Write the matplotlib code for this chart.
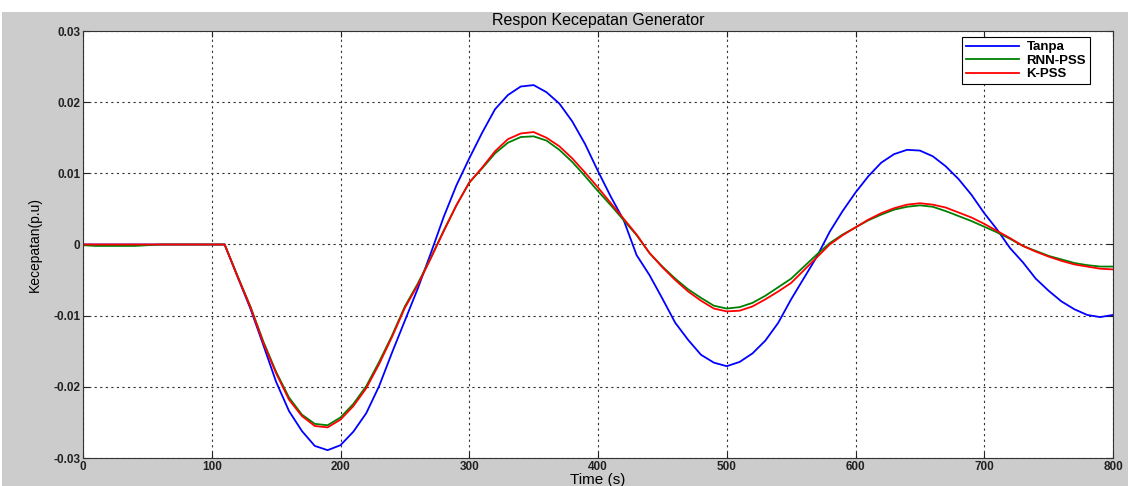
import matplotlib
matplotlib.use("agg")
from matplotlib import pyplot as plt
from matplotlib.patches import Rectangle

title = "Respon Kecepatan Generator"
x_label = "Time (s)"
y_label = "Kecepatan(p.u)"

# time axis, one reading every 10 s
time_s = list(range(0, 810, 10))

tanpa = [
    0, 0, 0, 0, 0, 0, 0, 0, 0, 0, 0, 0,
    -0.0045, -0.0090, -0.0141, -0.0193, -0.0234, -0.0262, -0.0283, -0.0289,
    -0.0282, -0.0263, -0.0237, -0.0199, -0.0152, -0.0107, -0.0062, -0.0013,
    0.0038, 0.0083, 0.0121, 0.0157, 0.0190, 0.0210, 0.0222, 0.0224,
    0.0214, 0.0198, 0.0173, 0.0141, 0.0103, 0.0067, 0.0034, -0.0015,
    -0.0043, -0.0076, -0.0110, -0.0134, -0.0155, -0.0166, -0.0171, -0.0165,
    -0.0153, -0.0135, -0.0110, -0.0077, -0.0047, -0.0017, 0.0018, 0.0047,
    0.0073, 0.0096, 0.0115, 0.0127, 0.0133, 0.0132, 0.0124, 0.0110,
    0.0092, 0.0070, 0.0044, 0.0021, -0.0005, -0.0025, -0.0048, -0.0065,
    -0.0080, -0.0091, -0.0099, -0.0102, -0.0099,
]

rnn_pss = [
    -0.0001, -0.0002, -0.0002, -0.0002, -0.0002, -0.0001, 0, 0, 0, 0, 0, 0,
    -0.0044, -0.0087, -0.0136, -0.0179, -0.0215, -0.0239, -0.0252, -0.0254,
    -0.0243, -0.0224, -0.0199, -0.0165, -0.0128, -0.0087, -0.0055, -0.0019,
    0.0019, 0.0055, 0.0087, 0.0107, 0.0128, 0.0143, 0.0151, 0.0152,
    0.0146, 0.0133, 0.0116, 0.0096, 0.0075, 0.0055, 0.0034, 0.0013,
    -0.0012, -0.0031, -0.0048, -0.0063, -0.0075, -0.0086, -0.0090, -0.0088,
    -0.0082, -0.0072, -0.0060, -0.0048, -0.0031, -0.0014, 0.0002, 0.0014,
    0.0024, 0.0034, 0.0042, 0.0049, 0.0053, 0.0055, 0.0053, 0.0047,
    0.0040, 0.0033, 0.0025, 0.0017, 0.0008, -0.0002, -0.0009, -0.0016,
    -0.0021, -0.0026, -0.0029, -0.0031, -0.0031,
]

k_pss = [
    0, 0, 0, 0, 0, 0, 0, 0, 0, 0, 0, 0,
    -0.0045, -0.0088, -0.0138, -0.0181, -0.0218, -0.0241, -0.0255, -0.0257,
    -0.0246, -0.0227, -0.0202, -0.0168, -0.0130, -0.0089, -0.0057, -0.0020,
    0.0018, 0.0055, 0.0087, 0.0108, 0.0131, 0.0148, 0.0156, 0.0158,
    0.0150, 0.0138, 0.0121, 0.0101, 0.0080, 0.0058, 0.0036, 0.0014,
    -0.0012, -0.0032, -0.0050, -0.0066, -0.0079, -0.0090, -0.0094, -0.0093,
    -0.0087, -0.0077, -0.0066, -0.0054, -0.0036, -0.0018, 0.0000, 0.0013,
    0.0024, 0.0035, 0.0044, 0.0051, 0.0056, 0.0058, 0.0056, 0.0052,
    0.0045, 0.0038, 0.0029, 0.0019, 0.0009, -0.0002, -0.0010, -0.0017,
    -0.0023, -0.0028, -0.0031, -0.0034, -0.0035,
]

x_ticks = list(range(0, 900, 100))
y_ticks = [-0.03, -0.02, -0.01, 0, 0.01, 0.02, 0.03]
y_tick_labels = ["-0.03", "-0.02", "-0.01", "0", "0.01", "0.02", "0.03"]

plt.rcParams["font.family"] = ["Liberation Sans Narrow", "Liberation Sans", "DejaVu Sans"]

fig = plt.figure(figsize=(11.3, 4.86), dpi=100, facecolor="white")
# grey matlab figure background, white strip at the top
fig.patches.append(Rectangle((2 / 1130, 0), 1126 / 1130, 474 / 486,
                             transform=fig.transFigure, facecolor="#cccccc",
                             edgecolor="none", zorder=-10))

ax = fig.add_axes([83 / 1130, 28 / 486, 1030 / 1130, 427 / 486])
ax.set_facecolor("white")

ax.plot(time_s, tanpa, color=(0, 0, 1), lw=1.3, label="Tanpa")
ax.plot(time_s, rnn_pss, color=(0, 0.5, 0), lw=1.3, label="RNN-PSS")
ax.plot(time_s, k_pss, color=(1, 0, 0), lw=1.3, label="K-PSS")

ax.set_xlim(0, 800)
ax.set_ylim(-0.03, 0.03)
ax.set_xticks(x_ticks)
ax.set_yticks(y_ticks)
ax.set_yticklabels(y_tick_labels)
ax.tick_params(direction="in", top=True, right=True, length=4, width=0.8,
               labelsize=8.5, colors="#222222", pad=2)
for lbl in ax.get_xticklabels() + ax.get_yticklabels():
    lbl.set_fontweight("bold")
for s in ax.spines.values():
    s.set_linewidth(0.8)
    s.set_color("#333333")

ax.grid(True, color="#333333", linestyle=(0, (2, 3)), linewidth=0.8)

ax.set_title(title, fontsize=11.5, pad=4)
ax.set_xlabel(x_label, fontsize=11, labelpad=0)
ax.set_ylabel(y_label, fontsize=10, labelpad=8)

leg = ax.legend(loc="upper right", bbox_to_anchor=(0.9777, 0.986), borderaxespad=0,
                fancybox=False, framealpha=1, edgecolor="black",
                prop={"weight": "bold", "size": 9.5},
                handlelength=4, borderpad=0.3, labelspacing=0.1, handletextpad=0.6)
leg.get_frame().set_linewidth(0.8)

fig.savefig("out.png", dpi=100, facecolor=fig.get_facecolor())
